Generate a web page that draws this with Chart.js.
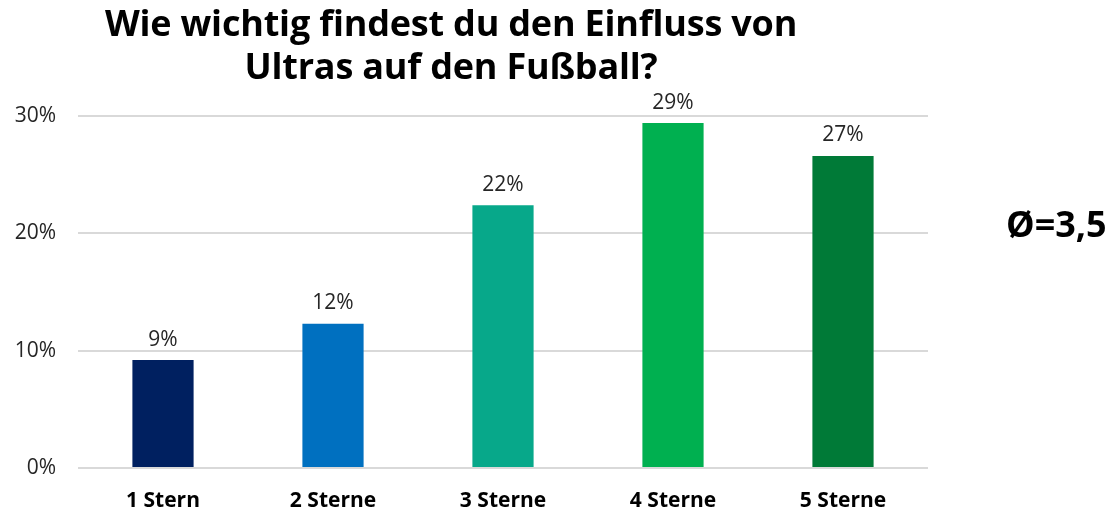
<!DOCTYPE html>
<html>
<head>
<meta charset="utf-8">
<script src="https://cdn.jsdelivr.net/npm/chart.js@4/dist/chart.umd.min.js"></script>
<style>
  html, body { margin: 0; padding: 0; background: #fff; }
  #wrap { position: relative; width: 1117px; height: 511px; }
  #title {
    position: absolute; left: 0; width: 902px; top: 1px;
    text-align: center; font: 700 36px "Open Sans", sans-serif;
    line-height: 43px; color: #000; letter-spacing: -0.2px;
  }
  #avg {
    position: absolute; left: 1006px; top: 199px;
    font: 700 36px "Open Sans", sans-serif; color: #000;
  }
</style>
</head>
<body>
<div id="wrap">
  <canvas id="myChart" width="1117" height="511"></canvas>
  <div id="title">Wie wichtig findest du den Einfluss von<br>Ultras auf den Fußball?</div>
  <div id="avg">Ø=3,5</div>
</div>
<script>
const categories = ["1 Stern", "2 Sterne", "3 Sterne", "4 Sterne", "5 Sterne"];
const values = [9.2, 12.3, 22.4, 29.4, 26.6];
const barColors = ["#002060", "#0070C0", "#07A88A", "#00B050", "#007A37"];
const yTicks = [0, 10, 20, 30];

// value labels above the bars
const valueLabels = {
  id: "value_labels",
  afterDatasetsDraw: (chart) => {
    const ctx = chart.ctx;
    const meta = chart.getDatasetMeta(0);
    ctx.save();
    ctx.font = "400 21px 'Open Sans', sans-serif";
    ctx.fillStyle = "#262626";
    ctx.textAlign = "center";
    ctx.textBaseline = "bottom";
    meta.data.forEach((bar, i) => {
      ctx.fillText(Math.round(values[i]) + "%", bar.x, bar.y - 10);
    });
    ctx.restore();
  },
};

const data = {
  labels: categories,
  datasets: [
    {
      data: values,
      backgroundColor: barColors,
      borderWidth: 0,
      barPercentage: 0.36,
      categoryPercentage: 1,
    },
  ],
};

const config = {
  type: "bar",
  data: data,
  plugins: [valueLabels],
  options: {
    responsive: false,
    animation: false,
    layout: {
      padding: { top: 116, right: 189, left: 0, bottom: 0 },
    },
    scales: {
      y: {
        min: 0,
        max: 30,
        afterFit: (scale) => {
          scale.width = 78;
        },
        afterBuildTicks: (scale) => {
          scale.ticks = yTicks.map((v) => ({ value: v }));
        },
        border: { display: false },
        grid: {
          color: "#d9d9d9",
          lineWidth: 2,
          drawTicks: false,
        },
        ticks: {
          padding: 22,
          color: "#262626",
          font: { family: "'Open Sans', sans-serif", size: 21, weight: 400 },
          callback: (v) => v + "%",
        },
      },
      x: {
        afterFit: (scale) => {
          scale.height = 43;
        },
        border: { display: false },
        grid: { display: false },
        ticks: {
          padding: 12,
          color: "#000",
          font: { family: "'Open Sans', sans-serif", size: 21, weight: "bold" },
        },
      },
    },
    plugins: {
      legend: { display: false },
      tooltip: { enabled: false },
    },
  },
};

const myChart = new Chart(document.getElementById("myChart"), config);
</script>
</body>
</html>
